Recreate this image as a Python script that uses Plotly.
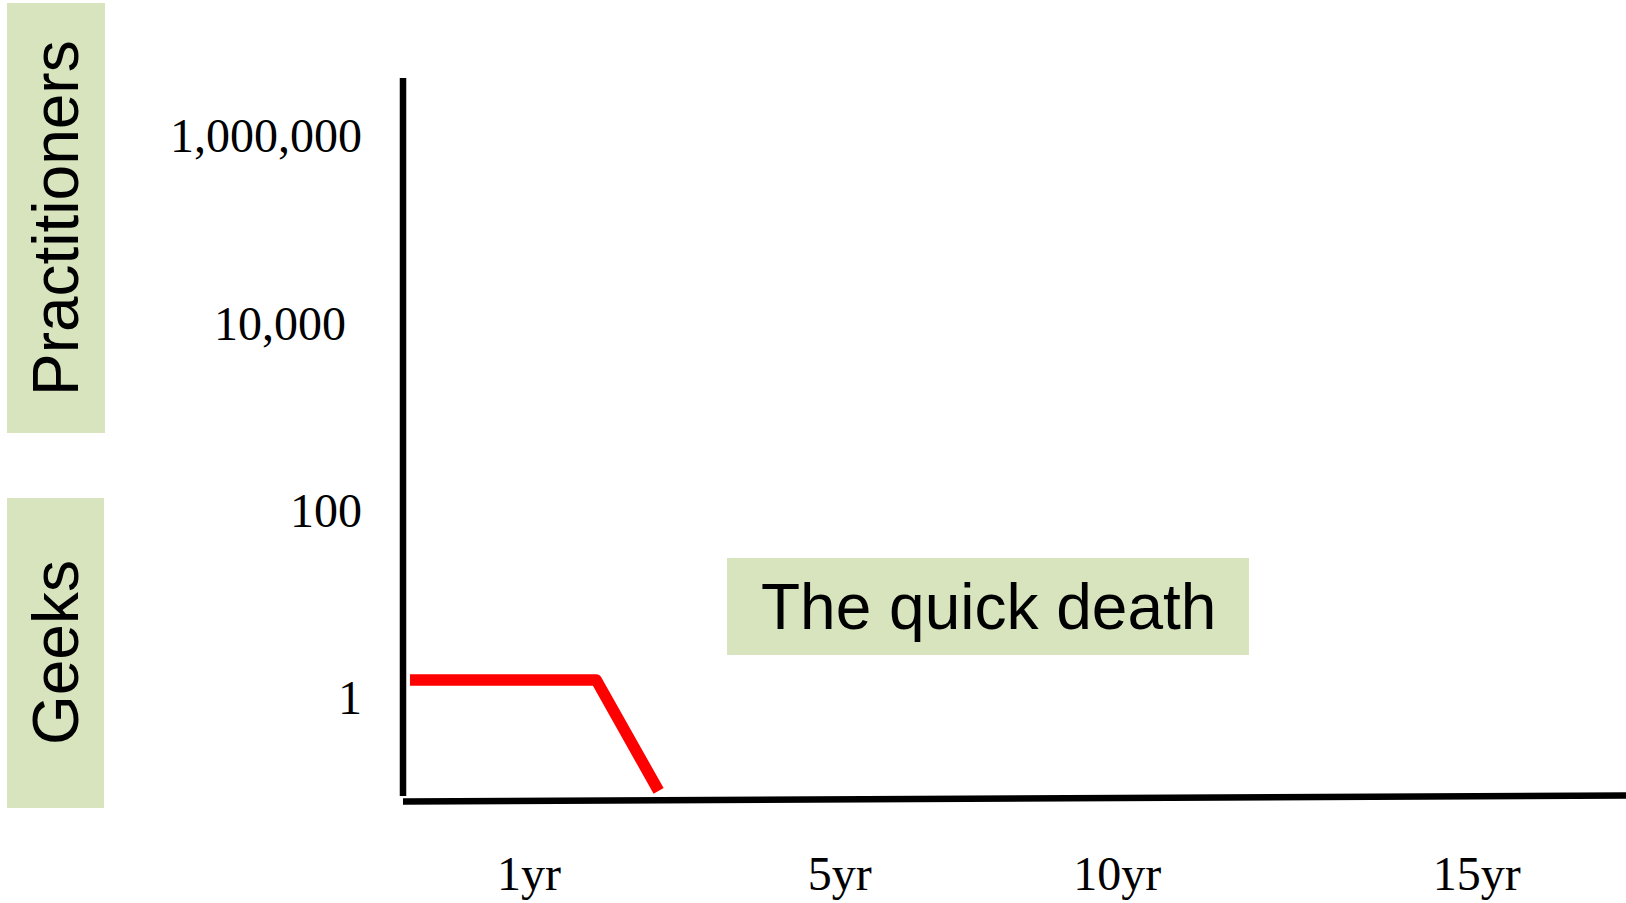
import plotly.graph_objects as go

# ---- data ----
timeline_pos = [0.57, 15.8, 20.9]          # position along the (unitless) time axis
adopters = [1.53, 1.53, 0.1]               # number of users (log scale)
x_tick_pos = [10.3, 35.7, 58.4, 87.8]
x_tick_text = ["1yr", "5yr", "10yr", "15yr"]
y_tick_vals = [1, 100, 10000, 1000000]
y_tick_text = ["1", "100", "10,000\u2004", "1,000,000"]
group_labels = ["Practitioners", "Geeks"]
callout = "The quick death"

# ---- layout geometry (pixels) ----
W, H = 1626, 903
L, R, T, B = 403, 0, 78, 102
PW, PH = W - L - R, H - T - B


def px(x):
    return (x - L) / PW


def py(y):
    return (H - B - y) / PH


GREEN = "#D7E4BD"

fig = go.Figure()
fig.add_trace(go.Scatter(
    x=timeline_pos, y=adopters, mode="lines",
    line=dict(color="#FF0000", width=11.5),
    showlegend=False, hoverinfo="skip",
))

shapes = [
    # y axis line
    dict(type="line", xref="paper", yref="paper", x0=px(403), x1=px(403), y0=py(796), y1=py(78),
         line=dict(color="black", width=6.5)),
    # x axis line (slightly tilted as in the original slide)
    dict(type="line", xref="paper", yref="paper", x0=px(403), x1=px(1626), y0=py(801.5), y1=py(795.5),
         line=dict(color="black", width=6.5)),
    # label boxes
    dict(type="rect", xref="paper", yref="paper", x0=px(7), x1=px(105), y0=py(433), y1=py(3),
         fillcolor=GREEN, line=dict(width=0), layer="below"),
    dict(type="rect", xref="paper", yref="paper", x0=px(7), x1=px(104), y0=py(808), y1=py(498),
         fillcolor=GREEN, line=dict(width=0), layer="below"),
    dict(type="rect", xref="paper", yref="paper", x0=px(727), x1=px(1249), y0=py(655), y1=py(558),
         fillcolor=GREEN, line=dict(width=0), layer="below"),
]

sans = "Liberation Sans, Arial, sans-serif"
serif = "Liberation Serif, Times New Roman, serif"

annotations = [
    dict(text=group_labels[0], xref="paper", yref="paper", x=px(56), y=py(218),
         textangle=-90, showarrow=False, xanchor="center", yanchor="middle",
         font=dict(family=sans, size=64, color="black")),
    dict(text=group_labels[1], xref="paper", yref="paper", x=px(56), y=py(653),
         textangle=-90, showarrow=False, xanchor="center", yanchor="middle",
         font=dict(family=sans, size=64, color="black")),
    dict(text=callout, xref="paper", yref="paper", x=px(988), y=py(607),
         showarrow=False, xanchor="center", yanchor="middle",
         font=dict(family=sans, size=64, color="black")),
]

fig.update_layout(
    width=W, height=H,
    margin=dict(l=L, r=R, t=T, b=B, pad=0, autoexpand=False),
    paper_bgcolor="white", plot_bgcolor="white",
    shapes=shapes, annotations=annotations,
    xaxis=dict(range=[0, 100], tickvals=x_tick_pos, ticktext=x_tick_text,
               showgrid=False, zeroline=False, showline=False, ticks="",
               automargin=False, ticklabelstandoff=40,
               tickfont=dict(family=serif, size=48, color="black")),
    yaxis=dict(type="log", range=[-1.108, 6.616], tickvals=y_tick_vals, ticktext=y_tick_text,
               showgrid=False, zeroline=False, showline=False, ticks="",
               automargin=False, ticklabelstandoff=40,
               tickfont=dict(family=serif, size=48, color="black")),
)

fig.write_html(
    "out.html",
    config={"displayModeBar": False},
    post_script="document.body.style.margin='0';document.body.style.overflow='hidden';"
                "document.querySelectorAll('.scatterlayer path.js-line').forEach(function(p){"
                "p.style.strokeLinejoin='round';});",
)
